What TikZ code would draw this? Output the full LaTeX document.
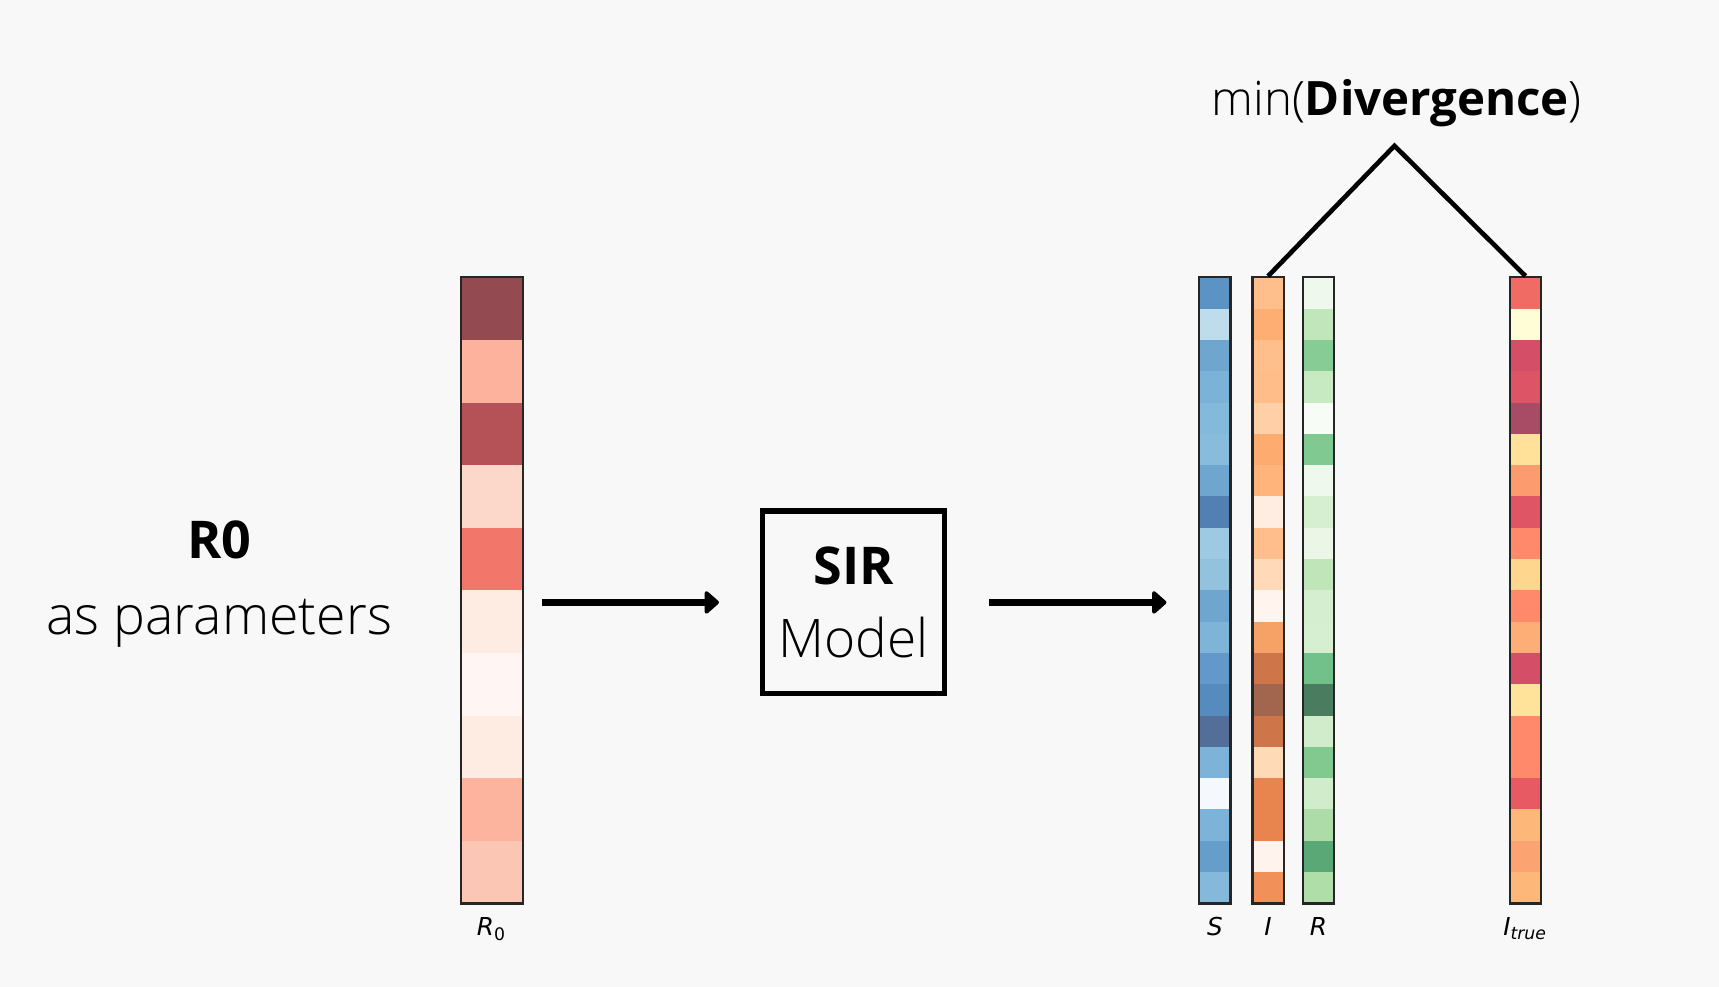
\documentclass[tikz,border=0pt]{standalone}
\usepackage{fontspec}
\setmainfont{Open Sans Light}[BoldFont={Open Sans Bold}]
\newfontfamily\plotfont{DejaVu Sans}
\usetikzlibrary{arrows.meta,positioning}
\definecolor{bgcol}{HTML}{F8F8F8}
\tikzset{
	strip/.style={
		draw=black!85, line width=0.55pt, inner sep=0pt,
		minimum width=.285cm, minimum height=5.71cm,
	},
	widestrip/.style={strip, minimum width=.572cm},
	modelbox/.style={
		rectangle, draw, line width=1.5pt,
		minimum size=1.66cm, inner sep=0pt, align=center,
		font=\fontsize{13.5}{19}\selectfont,
	},
	line/.style={
		draw, line width=1.7pt, -{Triangle[length=4pt,width=6.8pt,round]},
	},
	bracket/.style={draw, line width=1.2pt},
	axlabel/.style={font=\plotfont\fontsize{6.4}{7}\selectfont, inner sep=0pt},
}

\begin{document}
\begin{tikzpicture}[x=0.01cm, y=-0.01cm]
	\fill[bgcol] (0,0) rectangle (1568,900);
	\useasboundingbox (0,0) rectangle (1568,900);

	% colour cells of the strips
	\foreach \c [count=\i from 0] in {934A50,FCB29C,B55257,FCD8CB,F3766B,FEEBE2,FFF6F3,FEEBE2,FCB49F,FCC6B5}{
		\definecolor{cell}{HTML}{\c}
		\fill[cell] (420.2,253+57.1*\i) rectangle ++(57.2,57.1);
	}
	\foreach \c [count=\i from 0] in {5B93C5,BEDCEC,6EA6D0,7BB3D8,83B9DB,88BCDD,6EA6D0,5280B3,9DC9E2,93C2DE,6EA6D0,7FB4D9,6399CA,568BBE,536E98,7DB3D8,F5F9FD,7DB3D8,659DCB,85B9DB}{
		\definecolor{cell}{HTML}{\c}
		\fill[cell] (1094,253+28.55*\i) rectangle ++(28.5,28.55);
	}
	\foreach \c [count=\i from 0] in {FFBF8C,FEAE72,FFBF8C,FFBD89,FFD0A7,FEAB70,FFB47C,FEEDE0,FFBE8B,FFD9B8,FFF5EE,F6A266,CF754A,A2664E,CF754A,FFDAB7,E8844E,E8844E,FFF4ED,F19058}{
		\definecolor{cell}{HTML}{\c}
		\fill[cell] (1142.5,253+28.55*\i) rectangle ++(28.5,28.55);
	}
	\foreach \c [count=\i from 0] in {EFF8EC,C2E6BB,88CC95,C8EAC2,F8FCF7,80C990,EFF8EC,D5EFD0,EBF6E7,C0E5B9,D4EECF,D6EFD1,72C18A,4A7C5F,D0ECCA,81C98F,D0ECCA,AEDCA8,5AA876,B0DEA9}{
		\definecolor{cell}{HTML}{\c}
		\fill[cell] (1188.5,253+28.55*\i) rectangle ++(28.5,28.55);
	}
	\foreach \c [count=\i from 0] in {F06B64,FFFDD6,D34E66,DC5466,A74C64,FFE199,FC9C6E,DF5565,FE8A6B,FFD68D,FE8A6B,FDAD76,D34E66,FFE39A,FE8A6B,FE8A6B,E75A63,FDB778,FBA471,FDB778}{
		\definecolor{cell}{HTML}{\c}
		\fill[cell] (1377.4,253+28.55*\i) rectangle ++(28.5,28.55);
	}

	\node [widestrip] (r0col) at (448.8,538.5) {};
	\node [strip] (scol) at (1108.2,538.5) {};
	\node [strip] (icol) at (1156.7,538.5) {};
	\node [strip] (rcol) at (1202.7,538.5) {};
	\node [strip] (itrue) at (1391.6,538.5) {};

	\node [axlabel, below=.11cm of r0col] (r0lab) {\itshape R\textsubscript{\upshape 0}};
	\node [axlabel, below=.11cm of scol] (slab) {\itshape S};
	\node [axlabel, below=.11cm of icol] (ilab) {\itshape I};
	\node [axlabel, below=.11cm of rcol] (rlab) {\itshape R};
	\node [axlabel, below=.11cm of itrue] (itruelab) {\itshape I\textsubscript{true}};

	\node [align=center, font=\fontsize{13.5}{19.6}\selectfont] (r0text) at (200,533) {\textbf{R0}\\\fontsize{13.9}{19.6}\selectfont as parameters};
	\node [modelbox] (sir) at (778.5,549.5) {\textbf{SIR}\\\fontsize{13.8}{19}\selectfont Model};
	\node [font=\fontsize{12.3}{15}\selectfont] (div) at (1274,94) {min(\textbf{Divergence})};
	\coordinate (apex) at (1272,133);

	\path [line, shorten <=.16cm, shorten >=.37cm] (r0col.east |- sir.west) -- (sir.west);
	\path [line, shorten <=.38cm, shorten >=.29cm] (sir.east) -- (scol.west |- sir.east);
	\path [bracket] (icol.north) -- (apex) -- (itrue.north);
\end{tikzpicture}
\end{document}
